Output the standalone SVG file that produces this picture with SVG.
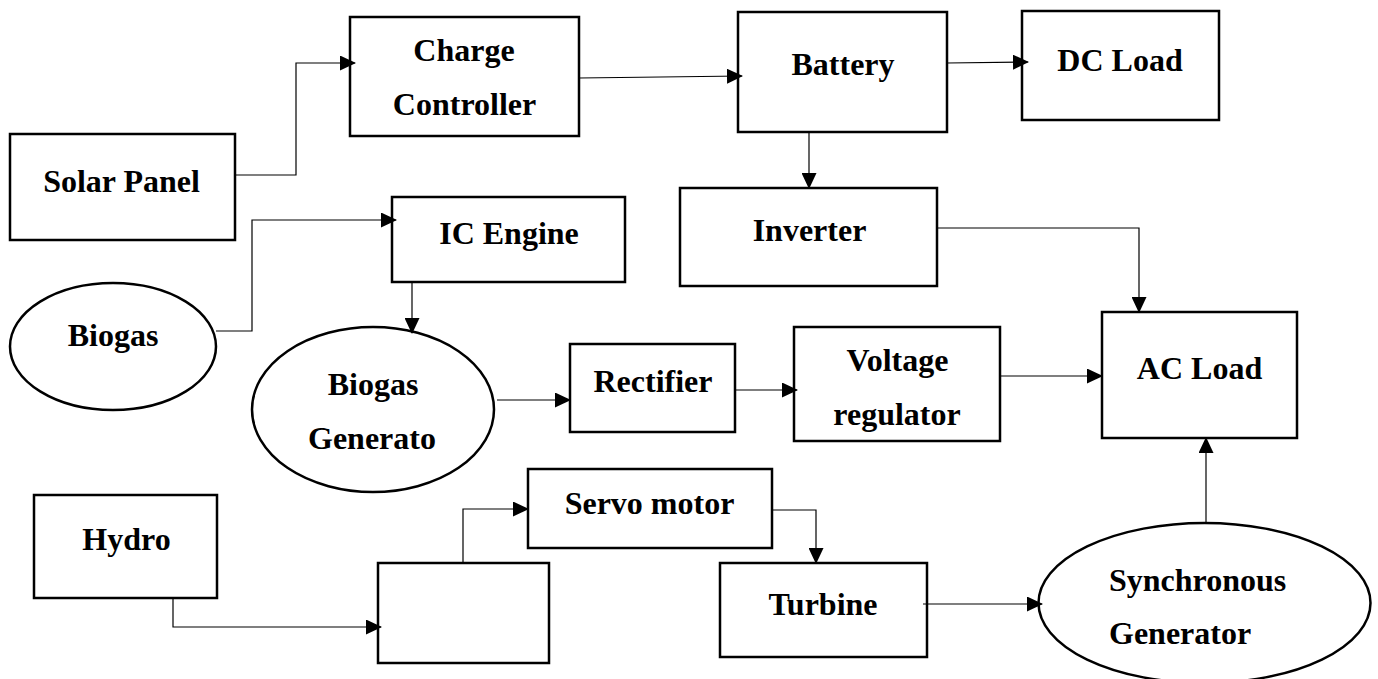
<svg xmlns="http://www.w3.org/2000/svg" width="1378" height="679" viewBox="0 0 1378 679">
<style>
.box{fill:#fff;stroke:#000;stroke-width:2.5}
.lbl{font-family:"Liberation Serif","Times New Roman",serif;font-weight:bold;font-size:32px;fill:#000;text-anchor:middle}
.conn{fill:none;stroke:#000;stroke-width:1.2}
</style>
<defs>
<marker id="arr" markerUnits="userSpaceOnUse" markerWidth="17" markerHeight="15" refX="15" refY="7.5" orient="auto">
<path d="M0,0 L16,7.5 L0,15 Z" fill="#000"/>
</marker>
</defs>
<rect width="1378" height="679" fill="#fff"/>
<g id="solar-panel"><rect class="box" x="10" y="134" width="225" height="106"/><text class="lbl" x="121.5" y="192">Solar Panel</text></g>
<g id="charge-controller"><rect class="box" x="350" y="17" width="229" height="119"/><text class="lbl" x="464" y="61">Charge</text><text class="lbl" x="464.5" y="115">Controller</text></g>
<g id="battery"><rect class="box" x="738" y="12" width="209" height="120"/><text class="lbl" x="843" y="75">Battery</text></g>
<g id="dc-load"><rect class="box" x="1022" y="11" width="197" height="109"/><text class="lbl" x="1120" y="71">DC Load</text></g>
<g id="inverter"><rect class="box" x="680" y="188" width="257" height="98"/><text class="lbl" x="809.5" y="241">Inverter</text></g>
<g id="ic-engine"><rect class="box" x="392" y="197" width="233" height="85"/><text class="lbl" x="509" y="244">IC Engine</text></g>
<g id="biogas"><ellipse class="box" cx="113" cy="346.5" rx="103" ry="63.5"/><text class="lbl" x="113" y="346">Biogas</text></g>
<g id="biogas-generator"><ellipse class="box" cx="373" cy="409.5" rx="121" ry="82.5"/><text class="lbl" x="373" y="395">Biogas</text><text class="lbl" x="372" y="449">Generato</text></g>
<g id="rectifier"><rect class="box" x="570" y="344" width="165" height="88"/><text class="lbl" x="653" y="392">Rectifier</text></g>
<g id="voltage-regulator"><rect class="box" x="794" y="327" width="206" height="114"/><text class="lbl" x="897.5" y="371">Voltage</text><text class="lbl" x="897" y="425">regulator</text></g>
<g id="ac-load"><rect class="box" x="1102" y="312" width="195" height="126"/><text class="lbl" x="1199.5" y="379">AC Load</text></g>
<g id="hydro"><rect class="box" x="34" y="495" width="183" height="103"/><text class="lbl" x="126.5" y="550">Hydro</text></g>
<g id="blank"><rect class="box" x="378" y="563" width="171" height="100"/></g>
<g id="servo-motor"><rect class="box" x="528" y="469" width="244" height="79"/><text class="lbl" x="649.5" y="514">Servo motor</text></g>
<g id="turbine"><rect class="box" x="720" y="563" width="207" height="94"/><text class="lbl" x="823" y="615">Turbine</text></g>
<g id="synchronous-generator"><ellipse class="box" cx="1204.5" cy="603" rx="166" ry="80"/><text class="lbl" x="1109" y="591" style="text-anchor:start">Synchronous</text><text class="lbl" x="1109" y="644" style="text-anchor:start">Generator</text></g>
<g id="connectors">
<path class="conn" marker-end="url(#arr)" d="M235,175 H296 V63 H355"/>
<path class="conn" marker-end="url(#arr)" d="M579,78 L742,76"/>
<path class="conn" marker-end="url(#arr)" d="M947,63 L1028,62"/>
<path class="conn" marker-end="url(#arr)" d="M809,132 V188"/>
<path class="conn" marker-end="url(#arr)" d="M937,228 H1139 V312"/>
<path class="conn" marker-end="url(#arr)" d="M216,331 H252 V220 H396"/>
<path class="conn" marker-end="url(#arr)" d="M412,282 V333"/>
<path class="conn" marker-end="url(#arr)" d="M497,400 H570"/>
<path class="conn" marker-end="url(#arr)" d="M735,390 H797"/>
<path class="conn" marker-end="url(#arr)" d="M1000,376 H1102"/>
<path class="conn" marker-end="url(#arr)" d="M173,598 V627 H381"/>
<path class="conn" marker-end="url(#arr)" d="M463,563 V509 H528"/>
<path class="conn" marker-end="url(#arr)" d="M772,510 H816 V563"/>
<path class="conn" marker-end="url(#arr)" d="M923,604 H1042"/>
<path class="conn" marker-end="url(#arr)" d="M1206,523 V438"/>
</g>
</svg>
